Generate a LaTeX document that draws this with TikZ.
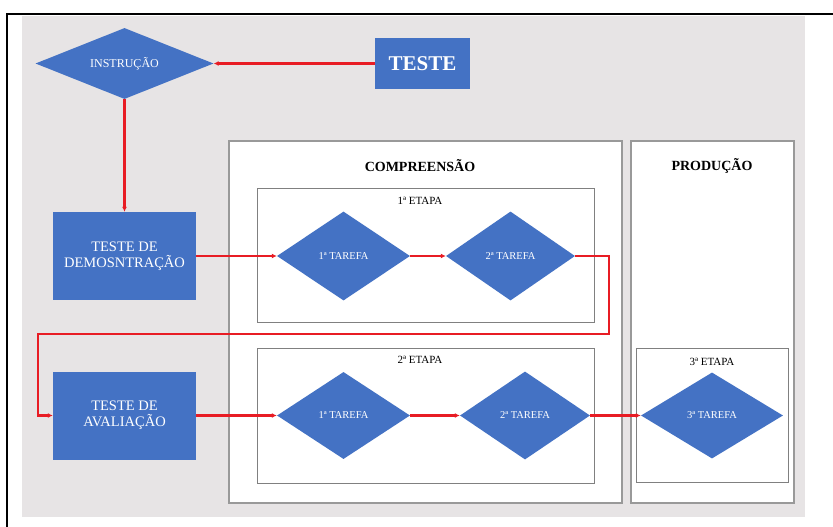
\documentclass[tikz,border=0pt]{standalone}
\usepackage{fontspec}
\setmainfont{Liberation Serif}
\usetikzlibrary{shapes.geometric,arrows.meta}
\definecolor{fundo}{RGB}{231,228,229}
\definecolor{azul}{RGB}{68,114,196}
\definecolor{vermelho}{RGB}{232,28,36}
\definecolor{borda}{RGB}{128,128,128}

\begin{document}
\begin{tikzpicture}[x=1pt, y=-1pt,
      every node/.style={font=\fontsize{11}{12}\selectfont, align=center},
      losango/.style={diamond, fill=azul, text=white, inner sep=0pt, aspect=2,
        minimum width=133pt, minimum height=89pt, font=\fontsize{10.5}{12}\selectfont},
      caixa/.style={rectangle, fill=azul, text=white, inner sep=0pt,
        minimum width=143pt, minimum height=88pt,
        font=\fontsize{14.5}{16}\selectfont},
      painel/.style={rectangle, draw=borda!80, fill=white, line width=1.2pt, inner sep=0pt},
      etapa/.style={rectangle, draw=borda, fill=white, line width=0.9pt, inner sep=0pt},
      titulo/.style={font=\bfseries\fontsize{14}{16}\selectfont},
      seta/.style={draw=vermelho, line width=2.2pt, -{Latex[length=5pt,width=5pt]}},]
  %.
  \useasboundingbox (0,0) rectangle (833,527);
  \fill[fundo] (22,16) rectangle (805,517);
  \draw[line width=2pt] (7,527) -- (7,14) -- (833,14);
  %.
  \node[painel, minimum width=393pt, minimum height=362pt] (comp) at (425.5,322) {};
  \node[painel, minimum width=163pt, minimum height=362pt] (prod) at (712.5,322) {};
  \node[titulo] (tcomp) at (420,166) {COMPREENSÃO};
  \node[titulo] (tprod) at (712,166) {PRODUÇÃO};
  \node[etapa, minimum width=337pt, minimum height=134pt] (et1) at (425.5,255) {};
  \node[etapa, minimum width=337pt, minimum height=135pt] (et2) at (425.5,415.5) {};
  \node[etapa, minimum width=152pt, minimum height=134pt] (et3) at (712,415) {};
  \node (let1) at (420,201) {1ª ETAPA};
  \node (let2) at (420,360) {2ª ETAPA};
  \node (let3) at (712,362) {3ª ETAPA};
  %.
  \node[losango, minimum width=178pt, minimum height=71pt,
        font=\fontsize{12}{13}\selectfont] (instr) at (124.5,63.5) {INSTRUÇÃO};
  \node[caixa, minimum width=95pt, minimum height=51pt,
        font=\bfseries\fontsize{21}{22}\selectfont] (teste) at (422.5,63.5) {TESTE};
  \node[caixa] (demo) at (124.5,256) {TESTE DE\\DEMOSNTRAÇÃO};
  \node[caixa] (aval) at (124.5,415.5) {TESTE DE\\AVALIAÇÃO};
  \node[losango] (t11) at (343.5,256) {1ª TAREFA};
  \node[losango, minimum width=129pt] (t12) at (510.5,256) {2ª TAREFA};
  \node[losango, minimum height=87pt] (t21) at (343.5,415.5) {1ª TAREFA};
  \node[losango, minimum width=130pt, minimum height=88pt] (t22) at (525,415.5) {2ª TAREFA};
  \node[losango, minimum width=142pt, minimum height=86pt] (t3) at (712,415.5) {3ª TAREFA};
  %.
  \coordinate (volta1) at (609,334);
  \coordinate (volta2) at (38,334);
  \draw[seta] (teste.west) -- (instr.east);
  \draw[seta] (instr.south) -- (demo.north);
  \draw[seta] (demo.east) -- (t11.west);
  \draw[seta] (t11.east) -- (t12.west);
  \draw[seta] (t12.east) -| (volta1) -- (volta2) |- (aval.west);
  \draw[seta] (aval.east) -- (t21.west);
  \draw[seta] (t21.east) -- (t22.west);
  \draw[seta] (t22.east) -- (t3.west);
  %.
\end{tikzpicture}
\end{document}
